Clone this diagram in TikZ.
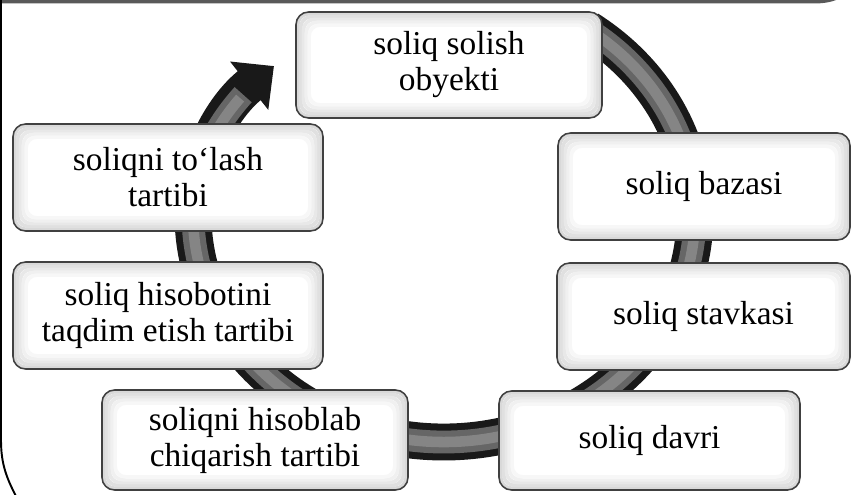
\documentclass[tikz,border=0pt]{standalone}
\usepackage{fontspec}
\setmainfont{Liberation Serif}
\usetikzlibrary{arrows.meta}

\begin{document}
\begin{tikzpicture}
  [x=0.02cm,y=-0.02cm,
   box/.style={draw=black!75,line width=0.9pt,fill=white,rounded corners=0.25cm,
     align=center,inner sep=0pt,outer sep=0pt,font=\fontsize{19}{20.5}\selectfont,
     path picture={
       \foreach \k [evaluate=\k as \gv using 30-6*\k] in {0,...,4}
         \draw[gray!\gv,line width=2pt,rounded corners=0.22cm]
           ([shift={(\k*1.6pt+1pt,-\k*1.6pt-1pt)}]path picture bounding box.north west)
           rectangle ([shift={(-\k*1.6pt-1pt,\k*1.6pt+1pt)}]path picture bounding box.south east);
     }},
   ring/.style={line width=21pt,black!90},
   core/.style={line width=13pt,black!60},
   corelight/.style={line width=6pt,black!48}]
  \useasboundingbox (0,0) rectangle (852,494);

  % frame pieces
  \draw[line width=2.2pt,black!65] (-5,1.5) -- (815,1.5) to[out=0,in=-150] (848,-8);
  \draw[line width=1.1pt] (1,-5) -- (1,440) to[out=-90,in=118] (18,500);

  % cycle behind the boxes
  \coordinate (ringstart) at ({444+251*cos(55)},{215-227*sin(55)});
  \draw[ring,-{Triangle[width=34pt,length=18pt]}] (ringstart)
    arc[start angle=-55,end angle=180,x radius=251,y radius=227]
    arc[start angle=180,end angle=221,x radius=330,y radius=227];
  \draw[core] (ringstart)
    arc[start angle=-55,end angle=180,x radius=251,y radius=227]
    arc[start angle=180,end angle=212,x radius=330,y radius=227];
  \draw[corelight] (ringstart)
    arc[start angle=-55,end angle=180,x radius=251,y radius=227]
    arc[start angle=180,end angle=211,x radius=330,y radius=227];

  \node[box,minimum width=6.12cm,minimum height=2.12cm] (obyekt) at (449,65) {soliq solish\\obyekti};
  \node[box,minimum width=5.84cm,minimum height=2.14cm] (baza) at (704,186.5) {soliq bazasi};
  \node[box,minimum width=5.86cm,minimum height=2.14cm] (stavka) at (703.5,316.5) {soliq stavkasi};
  \node[box,minimum width=6.02cm,minimum height=1.98cm] (davr) at (649.5,440.5) {soliq davri};
  \node[box,minimum width=6.12cm,minimum height=2.00cm] (hisoblab) at (255,440) {soliqni hisoblab\\chiqarish tartibi};
  \node[box,minimum width=6.20cm,minimum height=2.14cm] (hisobot) at (168,315.5) {soliq hisobotini\\taqdim etish tartibi};
  \node[box,minimum width=6.20cm,minimum height=2.14cm] (tolash) at (168,177.5) {soliqni to‘lash\\tartibi};

\end{tikzpicture}
\end{document}
